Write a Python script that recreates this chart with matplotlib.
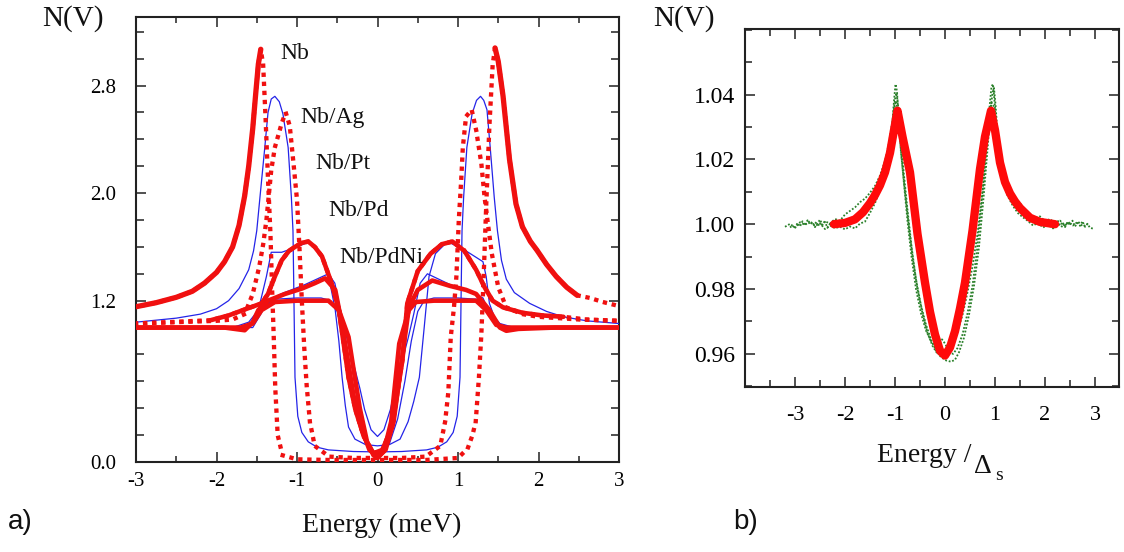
import numpy as np
import matplotlib
matplotlib.use("Agg")
import matplotlib.pyplot as plt
from matplotlib.ticker import FixedLocator, MultipleLocator

plt.rcParams['font.family'] = ['Liberation Serif', 'DejaVu Serif']
plt.rcParams['axes.unicode_minus'] = False

RED = '#f01010'
BLUE = '#2424e8'
GREEN = '#2a802a'

# ---------------- panel a): tunnelling DOS N(V) vs bias energy (meV) ----------------
# measured curves (red)
nb = [(-3.0, 1.155), (-2.75, 1.185), (-2.5, 1.225), (-2.3, 1.27), (-2.15, 1.33), (-2.0, 1.41),
      (-1.9, 1.49), (-1.8, 1.6), (-1.72, 1.76), (-1.65, 1.98), (-1.6, 2.2), (-1.55, 2.48),
      (-1.51, 2.76), (-1.48, 2.96), (-1.45, 3.07), (-1.42, 2.95), (-1.39, 2.55), (-1.36, 2.1),
      (-1.33, 1.7), (-1.31, 1.3), (-1.29, 0.95), (-1.27, 0.55), (-1.24, 0.2), (-1.18, 0.05),
      (-1.0, 0.02), (-0.6, 0.015), (-0.2, 0.015), (0.2, 0.015), (0.6, 0.015), (1.0, 0.03),
      (1.12, 0.1), (1.18, 0.2), (1.22, 0.3), (1.26, 0.63), (1.29, 0.95), (1.32, 1.4),
      (1.35, 1.9), (1.39, 2.5), (1.43, 2.95), (1.46, 3.08), (1.5, 2.98), (1.56, 2.72),
      (1.64, 2.25), (1.72, 1.92), (1.8, 1.75), (1.9, 1.64), (1.98, 1.576), (2.1, 1.47),
      (2.22, 1.38), (2.35, 1.3), (2.48, 1.24), (2.64, 1.22), (2.8, 1.19), (3.0, 1.16)]
nb_ag = [(-3.0, 1.03), (-2.5, 1.04), (-2.0, 1.05), (-1.8, 1.06), (-1.65, 1.1), (-1.55, 1.25),
         (-1.47, 1.45), (-1.42, 1.62), (-1.38, 1.8), (-1.32, 2.17), (-1.275, 2.34), (-1.19, 2.52),
         (-1.14, 2.6), (-1.09, 2.5), (-1.04, 2.2), (-1.0, 1.95), (-0.97, 1.6), (-0.94, 1.2),
         (-0.91, 0.85), (-0.88, 0.57), (-0.84, 0.3), (-0.78, 0.12), (-0.6, 0.04), (-0.3, 0.03),
         (0.0, 0.03), (0.3, 0.03), (0.6, 0.04), (0.78, 0.12), (0.84, 0.3), (0.88, 0.52),
         (0.91, 0.93), (0.95, 1.15), (0.98, 1.38), (1.01, 1.8), (1.04, 2.1), (1.06, 2.34),
         (1.1, 2.57), (1.17, 2.62), (1.225, 2.47), (1.29, 2.22), (1.33, 1.97), (1.37, 1.78),
         (1.42, 1.55), (1.5, 1.3), (1.6, 1.15), (1.8, 1.1), (2.0, 1.08), (2.5, 1.06), (3.0, 1.05)]
nb_pt = [(-3.0, 1.03), (-2.6, 1.04), (-2.07, 1.055), (-1.85, 1.09), (-1.67, 1.13), (-1.44, 1.18),
         (-1.36, 1.25), (-1.275, 1.38), (-1.19, 1.5), (-1.1, 1.57), (-1.025, 1.6), (-0.94, 1.63),
         (-0.86, 1.64), (-0.78, 1.6), (-0.69, 1.53), (-0.57, 1.33), (-0.48, 1.13), (-0.42, 0.88),
         (-0.36, 0.63), (-0.275, 0.39), (-0.17, 0.19), (-0.05, 0.065), (0.06, 0.09), (0.18, 0.26),
         (0.31, 0.76), (0.37, 1.18), (0.5, 1.42), (0.66, 1.55), (0.8, 1.62), (0.93, 1.64),
         (1.08, 1.57), (1.225, 1.43), (1.33, 1.3), (1.43, 1.2), (1.56, 1.15), (1.8, 1.11),
         (2.05, 1.09), (2.31, 1.08), (2.6, 1.06), (3.0, 1.05)]
nb_pd = [(-3.0, 1.0), (-2.4, 1.0), (-1.9, 1.0), (-1.65, 0.98), (-1.55, 1.04), (-1.48, 1.13),
         (-1.36, 1.2), (-1.15, 1.25), (-0.94, 1.29), (-0.78, 1.33), (-0.65, 1.366), (-0.525, 1.28),
         (-0.45, 1.05), (-0.38, 0.8), (-0.3, 0.5), (-0.2, 0.25), (-0.1, 0.09), (0.0, 0.04),
         (0.1, 0.09), (0.2, 0.3), (0.3, 0.75), (0.39, 1.15), (0.5, 1.28), (0.68, 1.35),
         (0.9, 1.31), (1.1, 1.28), (1.225, 1.25), (1.39, 1.13), (1.52, 1.0), (1.6, 0.976),
         (1.75, 0.99), (2.2, 1.0), (3.0, 1.0)]
nb_pdni = [(-3.0, 1.0), (-2.2, 1.0), (-1.7, 1.0), (-1.55, 1.03), (-1.44, 1.13), (-1.275, 1.19),
           (-1.0, 1.2), (-0.8, 1.2), (-0.61, 1.2), (-0.48, 1.13), (-0.36, 0.93), (-0.3, 0.7),
           (-0.22, 0.4), (-0.13, 0.15), (-0.05, 0.05), (0.0, 0.03), (0.08, 0.08), (0.17, 0.3),
           (0.27, 0.88), (0.39, 1.13), (0.475, 1.19), (0.7, 1.2), (1.0, 1.2), (1.225, 1.2),
           (1.35, 1.13), (1.475, 1.02), (1.6, 1.0), (2.2, 1.0), (3.0, 1.0)]

# model fits (blue)
fit_nb = [(-3.0, 1.04), (-2.5, 1.07), (-2.2, 1.1), (-2.0, 1.14), (-1.85, 1.2), (-1.72, 1.29),
          (-1.6, 1.43), (-1.54, 1.57), (-1.5, 1.72), (-1.46, 1.97), (-1.4, 2.34), (-1.36, 2.6),
          (-1.32, 2.7), (-1.275, 2.72), (-1.22, 2.68), (-1.175, 2.59), (-1.11, 2.34), (-1.07, 1.97),
          (-1.05, 1.72), (-1.04, 1.3), (-1.025, 0.63), (-0.99, 0.34), (-0.94, 0.22), (-0.86, 0.15),
          (-0.75, 0.11), (-0.61, 0.09), (-0.3, 0.078), (0.0, 0.075), (0.3, 0.078), (0.61, 0.09),
          (0.75, 0.11), (0.86, 0.15), (0.94, 0.22), (0.99, 0.34), (1.025, 0.63), (1.04, 1.3),
          (1.05, 1.72), (1.07, 1.97), (1.11, 2.34), (1.175, 2.59), (1.23, 2.69), (1.28, 2.72),
          (1.32, 2.69), (1.36, 2.62), (1.4, 2.34), (1.45, 1.97), (1.49, 1.72), (1.54, 1.5),
          (1.6, 1.36), (1.7, 1.26), (1.89, 1.18), (2.1, 1.12), (2.31, 1.08), (2.6, 1.05), (3.0, 1.03)]
fit_pt = [(-3.0, 1.0), (-2.2, 1.0), (-1.775, 1.005), (-1.6, 1.04), (-1.48, 1.13), (-1.38, 1.38),
          (-1.32, 1.56), (-1.19, 1.56), (-1.0, 1.6), (-0.84, 1.64), (-0.74, 1.58), (-0.65, 1.45),
          (-0.58, 1.3), (-0.525, 1.13), (-0.48, 0.9), (-0.44, 0.63), (-0.4, 0.42), (-0.36, 0.26),
          (-0.28, 0.17), (-0.15, 0.13), (0.0, 0.12), (0.15, 0.13), (0.28, 0.17), (0.38, 0.3),
          (0.45, 0.45), (0.52, 0.63), (0.58, 1.0), (0.64, 1.38), (0.72, 1.55), (0.87, 1.64),
          (1.1, 1.57), (1.31, 1.49), (1.35, 1.38), (1.39, 1.18), (1.45, 1.08), (1.52, 1.03),
          (1.7, 1.0), (2.2, 1.0), (3.0, 1.0)]
fit_pd = [(-3.0, 1.0), (-2.2, 1.0), (-1.7, 1.0), (-1.55, 1.0), (-1.45, 1.1), (-1.36, 1.2),
          (-1.2, 1.25), (-0.9, 1.32), (-0.61, 1.4), (-0.53, 1.33), (-0.45, 1.1), (-0.38, 0.92),
          (-0.31, 0.76), (-0.22, 0.55), (-0.16, 0.39), (-0.08, 0.24), (0.0, 0.19), (0.08, 0.24),
          (0.16, 0.39), (0.22, 0.55), (0.31, 0.76), (0.38, 0.92), (0.45, 1.1), (0.53, 1.33),
          (0.62, 1.4), (0.9, 1.32), (1.15, 1.27), (1.31, 1.22), (1.41, 1.08), (1.52, 1.0),
          (1.7, 1.0), (2.2, 1.0), (3.0, 1.0)]
fit_pdni = [(-3.0, 1.0), (-2.2, 1.0), (-1.7, 1.0), (-1.55, 1.02), (-1.45, 1.12), (-1.3, 1.21),
            (-1.0, 1.22), (-0.7, 1.22), (-0.58, 1.2), (-0.5, 1.12), (-0.42, 0.9), (-0.34, 0.6),
            (-0.25, 0.32), (-0.15, 0.14), (-0.06, 0.07), (0.0, 0.06), (0.06, 0.07), (0.15, 0.14),
            (0.25, 0.32), (0.34, 0.6), (0.42, 0.9), (0.5, 1.12), (0.58, 1.2), (0.7, 1.22),
            (1.0, 1.22), (1.25, 1.21), (1.36, 1.12), (1.47, 1.02), (1.6, 1.0), (2.2, 1.0), (3.0, 1.0)]

labels_a = ['Nb', 'Nb/Ag', 'Nb/Pt', 'Nb/Pd', 'Nb/PdNi']
label_pos_a = [(-1.21, 3.04), (-0.96, 2.56), (-0.775, 2.22), (-0.61, 1.87), (-0.475, 1.52)]
ytick_vals_a = [0.0, 1.2, 2.0, 2.8]
ytick_labels_a = ['0.0', '1.2', '2.0', '2.8']
xtick_vals_a = [-3, -2, -1, 0, 1, 2, 3]

# ---------------- panel b): normalised DOS vs E / Delta_s ----------------
fit_b = [(-2.22, 1.0), (-2.0, 1.0004), (-1.8, 1.0015), (-1.64, 1.0037), (-1.5, 1.0065),
         (-1.4, 1.009), (-1.3, 1.012), (-1.2, 1.016), (-1.1, 1.022), (-1.02, 1.029), (-0.95, 1.035),
         (-0.85, 1.027), (-0.7, 1.016), (-0.55, 0.997), (-0.4, 0.982), (-0.3, 0.973), (-0.2, 0.966),
         (-0.1, 0.961), (0.0, 0.9595), (0.1, 0.962), (0.2, 0.967), (0.3, 0.974), (0.4, 0.982),
         (0.55, 0.998), (0.7, 1.017), (0.8, 1.027), (0.92, 1.035), (1.0, 1.029), (1.1, 1.019),
         (1.2, 1.013), (1.3, 1.0095), (1.4, 1.007), (1.5, 1.005), (1.7, 1.002), (1.9, 1.0007),
         (2.2, 1.0)]
meas_b1 = [(-3.10, 0.9990), (-3.05, 0.9996), (-3.00, 0.9987), (-2.95, 1.0004), (-2.90, 0.9993),
           (-2.85, 1.0009), (-2.80, 0.9996), (-2.75, 1.0012), (-2.70, 0.9999), (-2.65, 1.0006),
           (-2.60, 0.9991), (-2.55, 1.0003), (-2.50, 1.0014), (-2.45, 0.9998), (-2.40, 1.0007),
           (-2.35, 0.9989), (-2.30, 1.0002), (-2.25, 0.9994), (-2.20, 1.0010), (-2.15, 0.9997),
           (-2.10, 1.0004), (-2.05, 0.9992), (-2.00, 1.0006), (-1.90, 1.0001), (-1.80, 1.0013),
           (-1.70, 1.0024), (-1.60, 1.0038), (-1.50, 1.0060), (-1.40, 1.0088), (-1.30, 1.0122),
           (-1.20, 1.0168), (-1.12, 1.0225), (-1.06, 1.0300), (-1.02, 1.0380), (-0.99, 1.0432),
           (-0.96, 1.0410), (-0.93, 1.0330), (-0.88, 1.0220), (-0.80, 1.0100), (-0.72, 0.9990),
           (-0.64, 0.9890), (-0.55, 0.9800), (-0.45, 0.9725), (-0.35, 0.9665), (-0.25, 0.9625),
           (-0.15, 0.9600), (-0.05, 0.9596), (0.05, 0.9605), (0.15, 0.9630), (0.25, 0.9670),
           (0.35, 0.9720), (0.45, 0.9790), (0.55, 0.9870), (0.65, 0.9970), (0.75, 1.0100),
           (0.83, 1.0240), (0.89, 1.0360), (0.93, 1.0425), (0.96, 1.0432), (0.99, 1.0380),
           (1.03, 1.0290), (1.08, 1.0210), (1.15, 1.0150), (1.25, 1.0100), (1.35, 1.0068),
           (1.45, 1.0045), (1.55, 1.0030), (1.65, 1.0018), (1.75, 1.0024), (1.85, 1.0006),
           (1.95, 1.0015), (2.00, 0.9998), (2.05, 1.0010), (2.10, 0.9994), (2.15, 1.0008),
           (2.20, 0.9999), (2.25, 1.0013), (2.30, 0.9996), (2.35, 1.0005), (2.40, 0.9991),
           (2.45, 1.0007), (2.50, 0.9997), (2.55, 1.0011), (2.60, 0.9993), (2.65, 1.0004),
           (2.70, 0.9995), (2.75, 1.0009), (2.80, 0.9992), (2.85, 1.0001), (2.90, 0.9989),
           (2.97, 0.9986)]
meas_b2 = [(-2.60, 1.0006), (-2.50, 0.9995), (-2.40, 1.0009), (-2.30, 1.0002), (-2.20, 1.0016),
           (-2.10, 1.0011), (-2.00, 1.0030), (-1.90, 1.0041), (-1.80, 1.0052), (-1.70, 1.0068),
           (-1.60, 1.0079), (-1.50, 1.0097), (-1.40, 1.0118), (-1.30, 1.0150), (-1.20, 1.0195),
           (-1.12, 1.0250), (-1.05, 1.0320), (-1.00, 1.0385), (-0.97, 1.0405), (-0.94, 1.0370),
           (-0.89, 1.0270), (-0.82, 1.0150), (-0.74, 1.0030), (-0.66, 0.9920), (-0.58, 0.9830),
           (-0.48, 0.9750), (-0.38, 0.9690), (-0.28, 0.9645), (-0.18, 0.9610), (-0.08, 0.9590),
           (0.02, 0.9580), (0.12, 0.9576), (0.20, 0.9582), (0.28, 0.9605), (0.38, 0.9650),
           (0.48, 0.9720), (0.58, 0.9810), (0.68, 0.9930), (0.77, 1.0080), (0.85, 1.0230),
           (0.91, 1.0350), (0.95, 1.0405), (0.98, 1.0420), (1.01, 1.0370), (1.05, 1.0280),
           (1.11, 1.0200), (1.20, 1.0140), (1.30, 1.0098), (1.40, 1.0075), (1.50, 1.0066),
           (1.60, 1.0040), (1.70, 1.0028), (1.80, 1.0019), (1.90, 1.0024), (2.00, 1.0009),
           (2.10, 1.0016), (2.20, 1.0003), (2.30, 1.0011), (2.40, 0.9997), (2.50, 1.0006)]
meas_b3 = [(-3.20, 0.9992), (-3.10, 1.0001), (-3.00, 0.9990), (-2.90, 1.0006), (-2.80, 0.9998),
           (-2.70, 1.0010), (-2.60, 0.9994), (-2.50, 1.0003), (-2.40, 0.9985), (-2.30, 0.9996),
           (-2.20, 0.9988), (-2.10, 0.9992), (-2.00, 0.9984), (-1.90, 0.9993), (-1.80, 0.9987),
           (-1.70, 1.0002), (-1.60, 1.0008), (-1.50, 1.0035), (-1.40, 1.0065), (-1.30, 1.0105),
           (-1.20, 1.0160), (-1.12, 1.0225), (-1.06, 1.0300), (-1.01, 1.0360), (-0.98, 1.0380),
           (-0.95, 1.0350), (-0.90, 1.0260), (-0.83, 1.0140), (-0.75, 1.0010), (-0.67, 0.9900),
           (-0.58, 0.9800), (-0.48, 0.9725), (-0.38, 0.9672), (-0.28, 0.9640), (-0.20, 0.9622),
           (-0.12, 0.9630), (-0.06, 0.9645), (0.00, 0.9632), (0.08, 0.9608), (0.16, 0.9600),
           (0.25, 0.9618), (0.35, 0.9660), (0.45, 0.9725), (0.55, 0.9810), (0.64, 0.9920),
           (0.73, 1.0060), (0.81, 1.0200), (0.88, 1.0320), (0.93, 1.0375), (0.97, 1.0365),
           (1.02, 1.0290), (1.08, 1.0200), (1.16, 1.0130), (1.26, 1.0085), (1.36, 1.0056),
           (1.46, 1.0034), (1.56, 1.0021), (1.66, 1.0010), (1.76, 0.9996), (1.86, 1.0004),
           (1.96, 0.9990), (2.06, 0.9998), (2.16, 0.9987), (2.26, 1.0000), (2.36, 0.9991),
           (2.46, 1.0005), (2.56, 0.9996), (2.66, 1.0008), (2.76, 0.9993), (2.86, 1.0002)]
ytick_vals_b = [0.96, 0.98, 1.00, 1.02, 1.04]
ytick_labels_b = ['0.96', '0.98', '1.00', '1.02', '1.04']
xtick_vals_b = [-3, -2, -1, 0, 1, 2, 3]


def xy(pairs):
    a = np.array(pairs, dtype=float)
    return a[:, 0], a[:, 1]


DOTS = dict(ls=(0, (0.01, 2.1)), dash_capstyle='projecting', color=RED)

W, H = 1124, 552
fig = plt.figure(figsize=(W / 100, H / 100), dpi=100)
axA = fig.add_axes([136 / W, 1 - 462 / H, (619 - 136) / W, (462 - 17) / H])
axB = fig.add_axes([745 / W, 1 - 387 / H, (1119 - 745) / W, (387 - 29) / H])

# ---- panel a drawing ----
for fit in (fit_nb, fit_pt, fit_pd, fit_pdni):
    x, y = xy(fit)
    axA.plot(x, y, color=BLUE, lw=0.9, zorder=3)

# Nb: dense wings, sparse points across the gap and far right tail
x, y = xy(nb)
axA.plot(x, y, lw=3.1, zorder=4, **DOTS)
for lo, hi in ((-3.0, -1.45), (1.46, 2.48)):
    m = (x >= lo) & (x <= hi)
    axA.plot(x[m], y[m], color=RED, lw=3.8, solid_capstyle='round', solid_joinstyle='round', zorder=4)

# Nb/Ag: sparse points throughout
x, y = xy(nb_ag)
axA.plot(x, y, lw=3.1, zorder=4, **DOTS)

# Nb/Pt: thick between the tails
x, y = xy(nb_pt)
axA.plot(x, y, lw=3.1, zorder=4, **DOTS)
m = (x >= -2.07) & (x <= 2.31)
axA.plot(x[m], y[m], color=RED, lw=3.3, solid_capstyle='round', solid_joinstyle='round', zorder=4)

for curve in (nb_pd, nb_pdni):
    x, y = xy(curve)
    axA.plot(x, y, color=RED, lw=3.3, solid_capstyle='round', solid_joinstyle='round', zorder=4)

for txt, (tx, ty) in zip(labels_a, label_pos_a):
    axA.text(tx, ty, txt, fontsize=17, ha='left', va='center', color='#111111', zorder=6)

axA.set_xlim(-3, 3)
axA.set_ylim(0, 3.31)
axA.xaxis.set_major_locator(FixedLocator(xtick_vals_a))
axA.xaxis.set_minor_locator(MultipleLocator(0.5))
axA.yaxis.set_major_locator(FixedLocator(ytick_vals_a))
axA.set_yticklabels(ytick_labels_a)
axA.yaxis.set_minor_locator(MultipleLocator(0.2))
axA.tick_params(which='both', direction='in', top=True, right=True, color='#222222', width=1.1)
axA.tick_params(which='major', length=7)
axA.tick_params(which='minor', length=6)
axA.tick_params(axis='x', which='minor', length=4)
axA.tick_params(axis='x', labelsize=15, pad=7)
axA.tick_params(axis='y', labelsize=15, pad=14)
for s in axA.spines.values():
    s.set_linewidth(1.5)
    s.set_color('#222222')

# ---- panel b drawing ----
for meas in (meas_b1, meas_b2, meas_b3):
    x, y = xy(meas)
    axB.plot(x, y, color=GREEN, lw=1.3, ls=(0, (1.0, 1.0)), zorder=3)
x, y = xy(fit_b)
axB.plot(x, y, color='#ff0a0a', lw=6.0, solid_capstyle='round', solid_joinstyle='round', zorder=4)

axB.set_xlim(-4.0, 3.48)
axB.set_ylim(0.9498, 1.0602)
axB.xaxis.set_major_locator(FixedLocator(xtick_vals_b))
axB.xaxis.set_minor_locator(MultipleLocator(0.5))
axB.yaxis.set_major_locator(FixedLocator(ytick_vals_b))
axB.set_yticklabels(ytick_labels_b)
axB.yaxis.set_minor_locator(MultipleLocator(0.01))
axB.tick_params(which='both', direction='in', top=True, right=True, color='#222222', width=1.1)
axB.tick_params(which='major', length=7)
axB.tick_params(which='minor', length=5)
axB.tick_params(axis='x', labelsize=16, pad=14)
axB.tick_params(axis='y', labelsize=17, pad=7)
for s in axB.spines.values():
    s.set_linewidth(1.5)
    s.set_color('#222222')

# ---- figure-level titles and axis names ----
fig.text(42 / W, 1 - 19 / H, 'N(V)', fontsize=21, ha='left', va='center', color='#111111')
fig.text(653 / W, 1 - 19 / H, 'N(V)', fontsize=21, ha='left', va='center', color='#111111')
fig.text(382 / W, 1 - 525 / H, 'Energy (meV)', fontsize=20, ha='center', va='center', color='#111111')
fig.text(877 / W, 1 - 462 / H, 'Energy /', fontsize=20, ha='left', va='baseline', color='#111111')
fig.text(974 / W, 1 - 473 / H, '\u0394', fontsize=20, ha='left', va='baseline', color='#111111')
fig.text(995 / W, 1 - 480 / H, 's', fontsize=14, ha='left', va='baseline', color='#111111')
fig.text(8 / W, 1 - 522 / H, 'a)', fontsize=20, ha='left', va='center',
         family=['Liberation Sans', 'DejaVu Sans'], color='#111111')
fig.text(733 / W, 1 - 522 / H, 'b)', fontsize=20, ha='left', va='center',
         family=['Liberation Sans', 'DejaVu Sans'], color='#111111')

fig.savefig('out.png', dpi=100, facecolor='white')
